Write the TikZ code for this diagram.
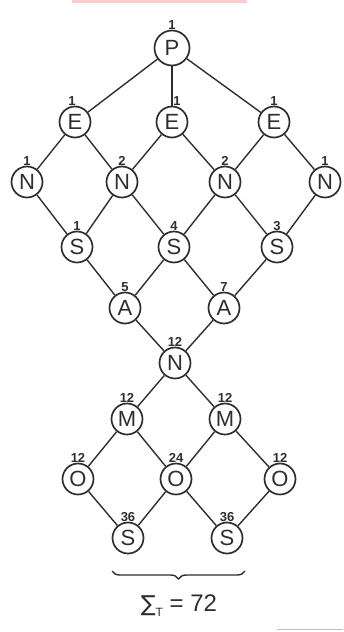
\documentclass[tikz,border=0pt]{standalone}
\usepackage{fontspec}
\setmainfont{Liberation Sans}
\newfontfamily\djv{DejaVu Sans}
\usetikzlibrary{decorations.pathreplacing}
\definecolor{inkc}{HTML}{2E2E2E}
\definecolor{pinkbar}{HTML}{F9CDD0}
\begin{document}
\begin{tikzpicture}[x=1pt,y=-1pt,
  ln/.style={draw=inkc, line width=1.4pt},
  vtx/.style={circle, draw=inkc, line width=1.7pt, minimum size=31pt, inner sep=0pt,
    font=\fontsize{22}{22}\selectfont, text=inkc, label distance=1.5pt},
  big/.style={minimum size=35pt},
  every label/.style={font=\fontsize{13}{13}\selectfont\bfseries, text=inkc, inner sep=0pt}
]
\useasboundingbox (0,0) rectangle (343,632);
\fill[pinkbar] (72,0) rectangle (247,2.5);
\draw[black!25, line width=1pt] (277,629.5) -- (343,629.5);

% row P
\node[vtx,big,label=above:1] (p) at (172,48) {P};
% row E
\node[vtx,label={[xshift=-3pt]above:1}] (e1) at (75,122) {E};
\node[vtx,label={[xshift=5pt]above:1}] (e2) at (172,122) {E};
\node[vtx,label=above:1] (e3) at (274,122) {E};
% row N
\node[vtx,label=above:1] (n1) at (27,182) {N};
\node[vtx,label=above:2] (n2) at (122,182) {N};
\node[vtx,label=above:2] (n3) at (225,182) {N};
\node[vtx,label=above:1] (n4) at (325,182) {N};
% row S
\node[vtx,label=above:1] (s1) at (77,247) {S};
\node[vtx,label=above:4] (s2) at (174,247) {S};
\node[vtx,label=above:3] (s3) at (277,247) {S};
% row A
\node[vtx,label=above:5] (a1) at (125,308) {A};
\node[vtx,label=above:7] (a2) at (224,308) {A};
% N
\node[vtx,label=above:12] (n) at (175,363) {N};
% row M
\node[vtx,label=above:12] (m1) at (127,419) {M};
\node[vtx,label=above:12] (m2) at (225,419) {M};
% row O
\node[vtx,label=above:12] (o1) at (78,479) {O};
\node[vtx,label=above:24] (o2) at (176,479) {O};
\node[vtx,label=above:12] (o3) at (280,479) {O};
% row S bottom
\node[vtx,label=above:36] (t1) at (128,538) {S};
\node[vtx,label=above:36] (t2) at (227,538) {S};

\foreach \a/\b in {p/e1,p/e2,p/e3,
  e1/n1,e1/n2,e2/n2,e2/n3,e3/n3,e3/n4,
  n1/s1,n2/s1,n2/s2,n3/s2,n3/s3,n4/s3,
  s1/a1,s2/a1,s2/a2,s3/a2,
  a1/n,a2/n,n/m1,n/m2,
  m1/o1,m1/o2,m2/o2,m2/o3,
  o1/t1,o2/t1,o2/t2,o3/t2}
  \draw[ln] (\a) -- (\b);

\coordinate (bl) at (112,571);
\coordinate (br) at (245,571);
\draw[ln, decorate, decoration={brace, amplitude=8pt}] (br) -- (bl);

\node[text=inkc, font=\fontsize{24}{24}\selectfont] (sum) at (179,606)
  {{\djv\fontsize{22}{22}\selectfont ∑}\raisebox{-5pt}{\fontsize{12}{12}\selectfont T} = 72};
\end{tikzpicture}
\end{document}
